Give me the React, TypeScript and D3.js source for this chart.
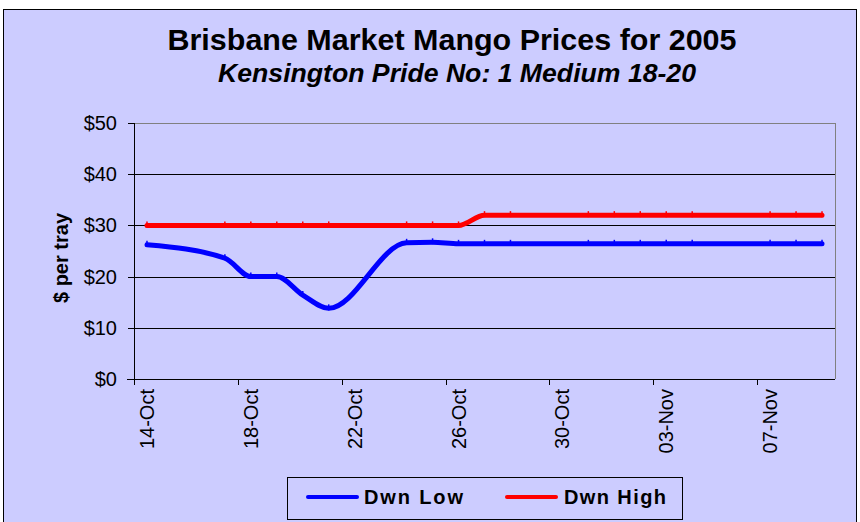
import React from "react";
import * as d3 from "d3";

const dates = [
  "2005-10-14", "2005-10-17", "2005-10-18", "2005-10-19", "2005-10-20", "2005-10-21",
  "2005-10-24", "2005-10-25", "2005-10-26", "2005-10-27", "2005-10-28",
  "2005-10-31", "2005-11-01", "2005-11-02", "2005-11-03", "2005-11-04",
  "2005-11-07", "2005-11-08", "2005-11-09",
];
const dwnLow = [26.2, 23.6, 20, 20, 16.4, 13.8, 26.6, 26.7, 26.4, 26.4, 26.4, 26.4, 26.4, 26.4, 26.4, 26.4, 26.4, 26.4, 26.4];
const dwnHigh = [30, 30, 30, 30, 30, 30, 30, 30, 30, 32, 32, 32, 32, 32, 32, 32, 32, 32, 32];
const yTicks = [0, 10, 20, 30, 40, 50];
const seriesNames = ["Dwn Low", "Dwn High"];
const seriesColors = ["#0000FF", "#FF0000"];
const title = "Brisbane Market Mango Prices for 2005";
const subtitle = "Kensington Pride No: 1 Medium 18-20";
const yTitle = "$ per tray";

const W = 860, H = 522;
const plot = { left: 134, right: 835, top: 123, bottom: 379 };
const BG = "#CCCCFF";
const FONT = "Arial, 'Liberation Sans', Helvetica, sans-serif";

export default function App() {
  const parse = d3.timeParse("%Y-%m-%d");
  const dts = dates.map((s) => parse(s) as Date);
  const start = dts[0];
  const end = d3.timeDay.offset(dts[dts.length - 1], 1);
  const x = d3.scaleTime().domain([start, end]).range([plot.left, plot.right]);
  const y = d3.scaleLinear().domain([0, 50]).range([plot.bottom, plot.top]);
  const mid = (d: Date) => x(d3.timeHour.offset(d, 12));
  const tickDates = d3.timeDay.range(start, end).filter((_, i) => i % 4 === 0);
  const fmt = d3.timeFormat("%d-%b");

  const line = d3
    .line<[Date, number]>()
    .x((d) => mid(d[0]))
    .y((d) => y(d[1]))
    .curve(d3.curveMonotoneX);

  const series = [dwnLow, dwnHigh].map((vals) => vals.map((v, i) => [dts[i], v] as [Date, number]));

  return (
    <svg width={W} height={H} style={{ position: "absolute", left: 0, top: 0 }} fontFamily={FONT}>
      <rect x={0} y={0} width={W} height={H} fill="#FFFFFF" />
      <rect x={3.5} y={9.5} width={853} height={540} fill={BG} stroke="#000" strokeWidth={1} />
      <text x={452} y={50} textAnchor="middle" fontSize={30} fontWeight="bold" textLength={569} lengthAdjust="spacingAndGlyphs">{title}</text>
      <text x={457} y={82} textAnchor="middle" fontSize={25} fontWeight="bold" fontStyle="italic" textLength={478} lengthAdjust="spacingAndGlyphs">{subtitle}</text>

      {/* plot area */}
      <rect x={plot.left} y={plot.top} width={plot.right - plot.left} height={plot.bottom - plot.top} fill={BG} />
      {yTicks.filter((t) => t > 0 && t < 50).map((t) => (
        <line key={"g" + t} x1={plot.left} x2={plot.right} y1={Math.round(y(t)) + 0.5} y2={Math.round(y(t)) + 0.5} stroke="#000" strokeWidth={1} />
      ))}
      <line x1={plot.left} x2={plot.right} y1={plot.top + 0.5} y2={plot.top + 0.5} stroke="#808080" strokeWidth={1} />
      <line x1={plot.right + 0.5} x2={plot.right + 0.5} y1={plot.top} y2={plot.bottom} stroke="#808080" strokeWidth={1} />

      {/* y axis */}
      <line x1={plot.left + 0.5} x2={plot.left + 0.5} y1={plot.top} y2={plot.bottom + 6} stroke="#000" strokeWidth={1} />
      {yTicks.map((t) => (
        <g key={"y" + t}>
          <line x1={plot.left - 6} x2={plot.left} y1={Math.round(y(t)) + 0.5} y2={Math.round(y(t)) + 0.5} stroke="#000" />
          <text x={117} y={y(t)} dy="0.35em" textAnchor="end" fontSize={20}>{"$" + t}</text>
        </g>
      ))}
      <text transform={`translate(61,258) rotate(-90)`} textAnchor="middle" dy="0.35em" fontSize={20} fontWeight="bold">{yTitle}</text>

      {/* x axis */}
      <line x1={plot.left - 7} x2={plot.right} y1={plot.bottom + 0.5} y2={plot.bottom + 0.5} stroke="#000" strokeWidth={1} />
      {tickDates.map((d, i) => (
        <g key={"x" + i}>
          <line x1={Math.round(x(d)) + 0.5} x2={Math.round(x(d)) + 0.5} y1={plot.bottom} y2={plot.bottom + 6} stroke="#000" />
          <text transform={`translate(${mid(d)},389) rotate(-90)`} textAnchor="end" dy="0.35em" fontSize={20}>{fmt(d)}</text>
        </g>
      ))}

      {/* series */}
      {series.map((s, k) => (
        <g key={"s" + k}>
          <path d={line(s) || ""} fill="none" stroke={seriesColors[k]} strokeWidth={5} strokeLinecap="round" strokeLinejoin="round" />
          {s.map((p, i) => (
            <line key={i} x1={mid(p[0])} x2={mid(p[0])} y1={y(p[1]) - 4} y2={y(p[1]) + 2} stroke={seriesColors[k]} strokeWidth={1.5} />
          ))}
        </g>
      ))}

      {/* legend */}
      <rect x={287.5} y={477.5} width={395} height={42} fill={BG} stroke="#000" strokeWidth={1} />
      {seriesNames.map((n, k) => {
        const lx = [308, 507][k];
        const tx = [364, 564][k];
        const tl = [99, 102][k];
        return (
          <g key={"l" + k}>
            <line x1={lx} x2={lx + 49} y1={497} y2={497} stroke={seriesColors[k]} strokeWidth={4} strokeLinecap="round" />
            <text x={tx} y={497} dy="0.35em" fontSize={20} fontWeight="bold" textLength={tl} lengthAdjust="spacing">{n}</text>
          </g>
        );
      })}
    </svg>
  );
}
